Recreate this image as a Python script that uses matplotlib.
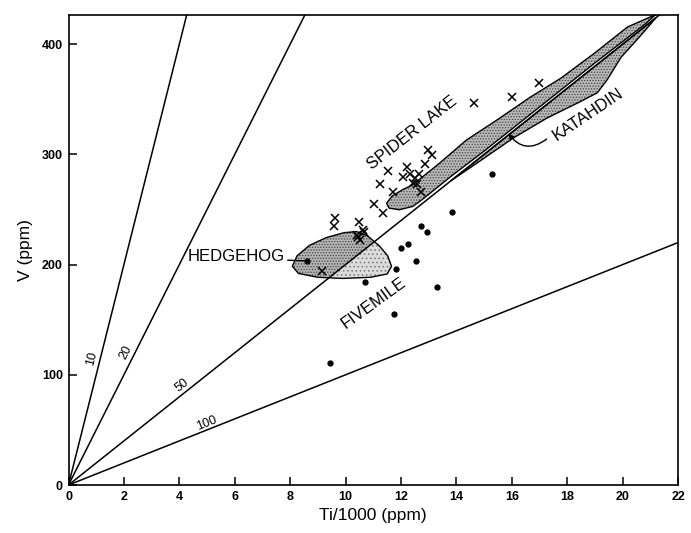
import numpy as np
import matplotlib.pyplot as plt
from matplotlib.patches import Polygon

plt.rcParams['font.family'] = ['Liberation Sans', 'DejaVu Sans']
plt.rcParams['hatch.linewidth'] = 0.6

# Ti/V ratio reference lines
ratios = [10, 20, 50, 100]

# samples: crosses (Ti/1000 ppm, V ppm)
cross_ti = [14.64, 16.02, 16.99, 12.99, 13.11, 12.87, 11.55, 11.25, 12.21, 12.09,
            12.33, 12.51, 12.45, 12.57, 12.66, 11.73, 12.73, 11.03, 11.34, 9.62,
            9.58, 10.50, 10.64, 10.40, 10.52, 9.16, 10.67, 10.46]
cross_v = [346.8, 352.2, 364.4, 303.9, 299.3, 291.2, 284.8, 273.0, 288.7, 279.6,
           282.7, 278.2, 273.7, 273.0, 282.1, 265.5, 265.5, 254.6, 247.0, 241.9,
           235.2, 238.8, 231.3, 226.8, 222.2, 194.4, 229.8, 225.0]

# samples: dots
dot_ti = [15.29, 13.86, 12.73, 12.93, 11.99, 12.25, 12.55, 11.82, 10.70, 13.30,
          11.75, 9.44, 8.62]
dot_v = [281.8, 247.9, 234.9, 229.2, 214.7, 218.6, 203.2, 195.6, 184.4, 179.3,
         155.4, 110.9, 203.4]

# field outlines
hedgehog_ti = [8.08, 8.25, 8.70, 9.30, 9.95, 10.40, 10.80, 11.22, 11.52, 11.66,
               11.50, 10.90, 9.90, 9.00, 8.30]
hedgehog_v = [198.5, 208.0, 217.5, 224.5, 229.0, 230.0, 226.0, 217.0, 208.0, 198.5,
              191.5, 188.5, 187.5, 188.5, 192.0]

spider_ti = [11.48, 11.69, 12.06, 12.42, 13.39, 14.36, 15.45, 16.67, 17.76, 18.97,
             20.18, 21.2, 20.8, 19.0, 17.0, 15.0, 13.8, 12.79, 12.42, 11.94, 11.57]
spider_v = [255.8, 262.4, 268.0, 272.4, 292.0, 313.0, 331.0, 352.0, 369.0, 391.6,
            415.7, 427.0, 418.0, 383.0, 343.0, 303.0, 280.0, 259.5, 252.8, 249.8, 251.3]

katahdin_ti = [13.8, 15.0, 17.0, 19.0, 21.2, 21.0, 20.55, 19.94, 19.45, 19.09,
               18.48, 17.27, 16.06, 14.85]
katahdin_v = [276.0, 300.0, 340.0, 380.0, 424.0, 418.0, 405.0, 388.0, 368.0, 356.0,
              348.0, 333.0, 315.0, 294.0]

fig = plt.figure(figsize=(6.91, 5.33), dpi=100)
ax = fig.add_axes([68.5 / 691, 1 - 485 / 533, (678 - 68.5) / 691, (485 - 14.5) / 533])

# fields: stippled fill + black outline
def field(xs, ys, face):
    ax.add_patch(Polygon(np.column_stack([xs, ys]), closed=True, facecolor=face,
                         edgecolor='#444444', hatch='......', linewidth=0, zorder=1))
    p = Polygon(np.column_stack([xs, ys]), closed=True, fill=False,
                edgecolor='black', linewidth=1.0, zorder=2)
    ax.add_patch(p)
    return p

field(spider_ti, spider_v, '#b8b8b8')
field(katahdin_ti, katahdin_v, '#b8b8b8')
hh = field(hedgehog_ti, hedgehog_v, '#b4b4b4')

# fivemile part of the ellipse, under the 50 line, lighter stipple
xx = np.linspace(7, 13, 50)
fm = ax.fill_between(xx, 0, xx * 20, facecolor='#dcdcdc', edgecolor='#777777',
                     hatch='....', zorder=1.5, linewidth=0)
fm.set_clip_path(hh)

# ratio lines
xline = np.linspace(0, 22, 100)
for r in ratios:
    ax.plot(xline, xline * 1000 / r, color='black', linewidth=1.1, zorder=3)

ax.plot(cross_ti, cross_v, linestyle='none', marker='x', color='black',
        markersize=5.5, markeredgewidth=1.1, zorder=4)
ax.plot(dot_ti, dot_v, linestyle='none', marker='o', color='black',
        markersize=3.5, zorder=4)

# ratio labels along the lines
lab_pos = {10: (0.85, 115), 20: (2.05, 120), 50: (4.1, 90), 100: (5.0, 56)}
for r in ratios:
    x, y = lab_pos[r]
    ax.text(x, y, str(r), fontsize=9, ha='center', va='center',
            rotation=np.degrees(np.arctan(1000 / r)), transform_rotates_text=True,
            rotation_mode='anchor', zorder=5)

# field names
ax.text(12.42, 320, 'SPIDER LAKE', fontsize=12, rotation=38, ha='center', va='center',
        rotation_mode='anchor')
ax.text(18.75, 336, 'KATAHDIN', fontsize=12, rotation=34, ha='center', va='center',
        rotation_mode='anchor')
ax.text(11.0, 165, 'FIVEMILE', fontsize=12, rotation=36, ha='center', va='center',
        rotation_mode='anchor')
ax.text(6.05, 207, 'HEDGEHOG', fontsize=12, ha='center', va='center')
ax.plot([7.92, 8.6], [204, 203.4], color='black', linewidth=1.0)
ax.annotate('', xy=(15.88, 319), xytext=(17.26, 314),
            arrowprops=dict(arrowstyle='-|>', color='black', linewidth=1.0,
                            mutation_scale=8, shrinkA=0, shrinkB=0,
                            connectionstyle='arc3,rad=-0.5'))

ax.set_xlim(0, 22)
ax.set_ylim(0, 427)
ax.set_xticks(range(0, 23, 2))
ax.set_yticks(range(0, 401, 100))
ax.tick_params(direction='in', length=6, width=1.1, labelsize=9, pad=4)
for lab in ax.get_xticklabels() + ax.get_yticklabels():
    lab.set_fontweight('bold')
for s in ax.spines.values():
    s.set_linewidth(1.2)

ax.set_xlabel('Ti/1000 (ppm)', fontsize=12.5, labelpad=4)
ax.set_ylabel('V (ppm)', fontsize=12.5, labelpad=6)

fig.savefig('out.png', dpi=100)
